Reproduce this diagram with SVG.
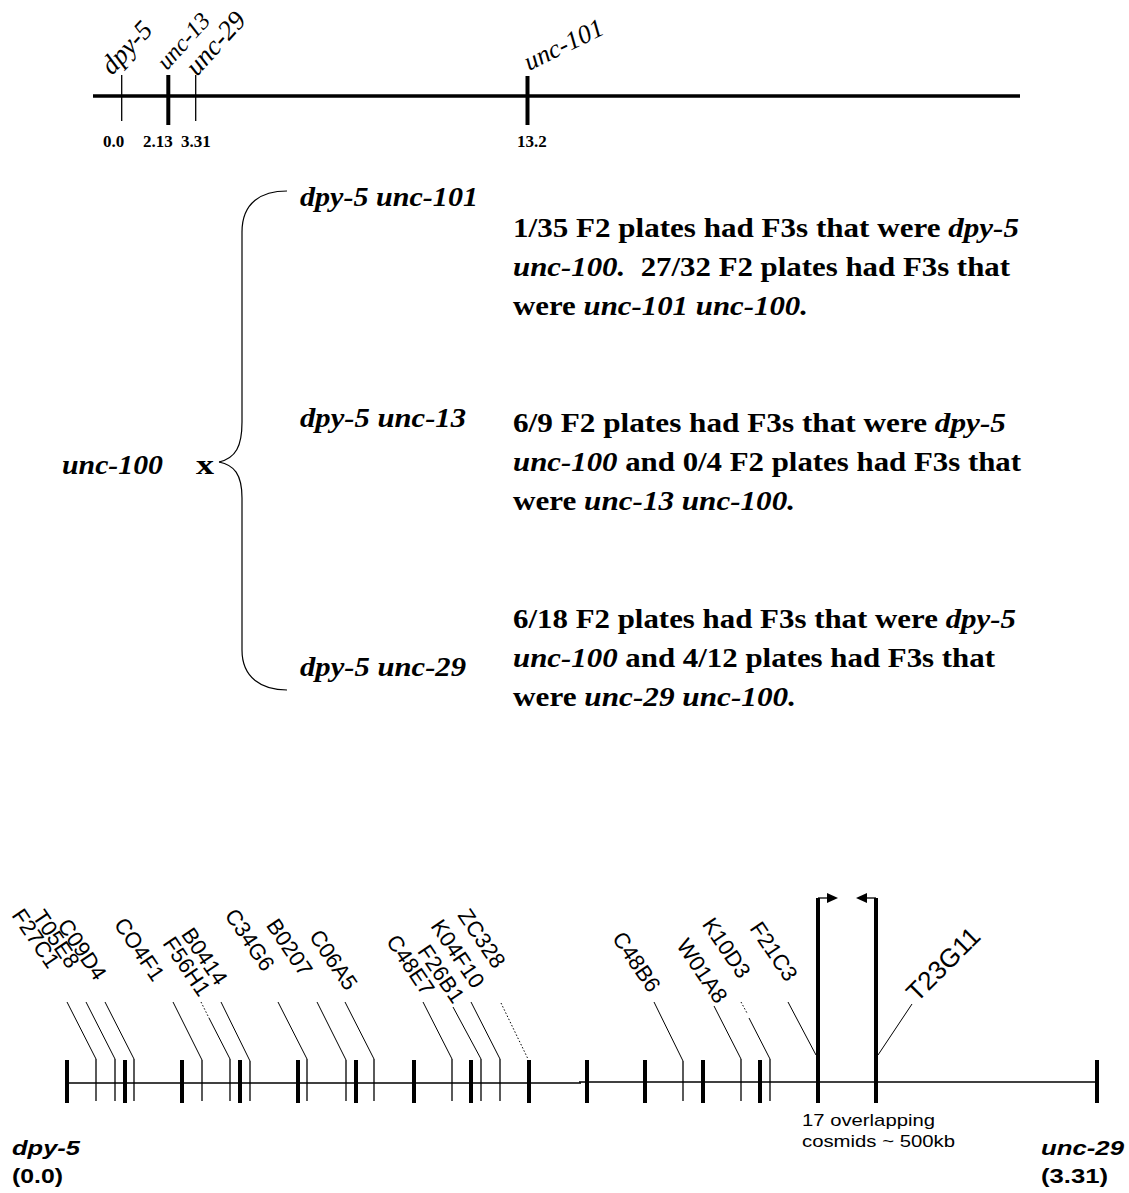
<svg xmlns="http://www.w3.org/2000/svg" width="1129" height="1193" viewBox="0 0 1129 1193">
<style>
.tm{font-family:"Liberation Serif","Times New Roman",serif;fill:#000}
.ar{font-family:"Liberation Sans",Arial,sans-serif;fill:#000}
.p{font-size:27px;font-weight:bold}
.i{font-style:italic}
.lb{font-size:22px;text-anchor:end}
.ax{stroke:#000;fill:none}
.thin{stroke:#000;stroke-width:1.3}
.thick{stroke:#000;stroke-width:4}
.ld{stroke:#000;stroke-width:1}
.dot{stroke:#000;stroke-width:1;stroke-dasharray:1.5 2}
</style>
<rect width="1129" height="1193" fill="#fff"/>

<!-- top genetic map -->
<g id="top-map">
  <line class="ax" x1="93" y1="96" x2="1020" y2="96" stroke-width="3.5"/>
  <line class="thin" x1="121.7" y1="75" x2="121.7" y2="121" stroke-width="1.5"/>
  <line class="thick" x1="168.3" y1="75" x2="168.3" y2="125"/>
  <line class="thin" x1="195.7" y1="75" x2="195.7" y2="121" stroke-width="1.5"/>
  <line class="thick" x1="527.5" y1="76" x2="527.5" y2="125"/>
  <text class="tm i" font-size="27" transform="translate(112,76) rotate(-47)">dpy-5</text>
  <text class="tm i" font-size="24" transform="translate(167,71) rotate(-48)">unc-13</text>
  <text class="tm i" font-size="27" transform="translate(197,77) rotate(-48)">unc-29</text>
  <text class="tm i" font-size="26" transform="translate(529,71) rotate(-26)">unc-101</text>
  <text class="tm" font-size="17" font-weight="bold" x="103" y="147">0.0</text>
  <text class="tm" font-size="17" font-weight="bold" x="143" y="147">2.13</text>
  <text class="tm" font-size="17" font-weight="bold" x="181" y="147">3.31</text>
  <text class="tm" font-size="17" font-weight="bold" x="517" y="147">13.2</text>
</g>

<!-- cross -->
<g id="cross">
  <text class="tm p i" x="62" y="474" textLength="101" lengthAdjust="spacingAndGlyphs">unc-100</text>
  <text class="tm p" font-size="28" x="196" y="474" textLength="18" lengthAdjust="spacingAndGlyphs">x</text>
  <path class="ax" stroke-width="1.2" d="M287,191 C262,191 242,202 242,232 L242,422 C242,446 236,458 219,462"/>
  <path class="ax" stroke-width="1.2" d="M219,462 C234,465 242,474 242,498 L242,650 C242,678 262,690 287,690"/>
</g>

<g id="strain-1">
  <text class="tm p i" x="300" y="206" textLength="178" lengthAdjust="spacingAndGlyphs">dpy-5 unc-101</text>
  <text class="tm p" x="513" y="237" textLength="506" lengthAdjust="spacingAndGlyphs">1/35 F2 plates had F3s that were <tspan class="i">dpy-5</tspan></text>
  <text class="tm p" x="513" y="276" textLength="497" lengthAdjust="spacingAndGlyphs" xml:space="preserve"><tspan class="i">unc-100.</tspan>  27/32 F2 plates had F3s that</text>
  <text class="tm p" x="513" y="315" textLength="295" lengthAdjust="spacingAndGlyphs">were <tspan class="i">unc-101 unc-100.</tspan></text>
</g>

<g id="strain-2">
  <text class="tm p i" x="300" y="427" textLength="166" lengthAdjust="spacingAndGlyphs">dpy-5 unc-13</text>
  <text class="tm p" x="513" y="432" textLength="493" lengthAdjust="spacingAndGlyphs">6/9 F2 plates had F3s that were <tspan class="i">dpy-5</tspan></text>
  <text class="tm p" x="513" y="471" textLength="508" lengthAdjust="spacingAndGlyphs"><tspan class="i">unc-100</tspan> and 0/4 F2 plates had F3s that</text>
  <text class="tm p" x="513" y="510" textLength="282" lengthAdjust="spacingAndGlyphs">were <tspan class="i">unc-13 unc-100.</tspan></text>
</g>

<g id="strain-3">
  <text class="tm p i" x="300" y="676" textLength="166" lengthAdjust="spacingAndGlyphs">dpy-5 unc-29</text>
  <text class="tm p" x="513" y="628" textLength="503" lengthAdjust="spacingAndGlyphs">6/18 F2 plates had F3s that were <tspan class="i">dpy-5</tspan></text>
  <text class="tm p" x="513" y="667" textLength="482" lengthAdjust="spacingAndGlyphs"><tspan class="i">unc-100</tspan> and 4/12 plates had F3s that</text>
  <text class="tm p" x="513" y="706" textLength="283" lengthAdjust="spacingAndGlyphs">were <tspan class="i">unc-29 unc-100.</tspan></text>
</g>

<!-- physical map -->
<g id="physical-map">
  <line class="ax" x1="67" y1="1083" x2="581" y2="1083" stroke-width="1.6"/>
  <line class="ax" x1="579" y1="1082" x2="1097" y2="1082" stroke-width="1.6"/>
  <g id="thick-ticks">
    <line class="thick" x1="67" y1="1060" x2="67" y2="1103"/>
    <line class="thick" x1="125" y1="1060" x2="125" y2="1103"/>
    <line class="thick" x1="182" y1="1060" x2="182" y2="1103"/>
    <line class="thick" x1="240" y1="1060" x2="240" y2="1103"/>
    <line class="thick" x1="298" y1="1060" x2="298" y2="1103"/>
    <line class="thick" x1="356" y1="1060" x2="356" y2="1103"/>
    <line class="thick" x1="414" y1="1060" x2="414" y2="1103"/>
    <line class="thick" x1="471" y1="1060" x2="471" y2="1103"/>
    <line class="thick" x1="529" y1="1060" x2="529" y2="1103"/>
    <line class="thick" x1="587" y1="1060" x2="587" y2="1103"/>
    <line class="thick" x1="645" y1="1060" x2="645" y2="1103"/>
    <line class="thick" x1="703" y1="1060" x2="703" y2="1103"/>
    <line class="thick" x1="760" y1="1060" x2="760" y2="1103"/>
    <line class="thick" x1="1097" y1="1060" x2="1097" y2="1103"/>
    <line class="thick" x1="818" y1="898" x2="818" y2="1103"/>
    <line class="thick" x1="876" y1="898" x2="876" y2="1103"/>
  </g>
  <g id="thin-ticks">
    <line class="thin" x1="96" y1="1059" x2="96" y2="1101"/>
    <line class="thin" x1="115" y1="1059" x2="115" y2="1101"/>
    <line class="thin" x1="134" y1="1059" x2="134" y2="1101"/>
    <line class="thin" x1="202" y1="1060" x2="202" y2="1101"/>
    <line class="thin" x1="230" y1="1059" x2="230" y2="1101"/>
    <line class="thin" x1="250" y1="1061" x2="250" y2="1101"/>
    <line class="thin" x1="307" y1="1059" x2="307" y2="1101"/>
    <line class="thin" x1="346" y1="1060" x2="346" y2="1101"/>
    <line class="thin" x1="374" y1="1059" x2="374" y2="1101"/>
    <line class="thin" x1="452" y1="1059" x2="452" y2="1101"/>
    <line class="thin" x1="481" y1="1059" x2="481" y2="1101"/>
    <line class="thin" x1="500" y1="1059" x2="500" y2="1101"/>
    <line class="thin" x1="683" y1="1061" x2="683" y2="1101"/>
    <line class="thin" x1="741" y1="1059" x2="741" y2="1101"/>
    <line class="thin" x1="770" y1="1059" x2="770" y2="1101"/>
  </g>
  <g id="arrows" fill="#000">
    <line class="thin" x1="818" y1="898" x2="828" y2="898" stroke-width="1.6"/>
    <polygon points="838,898 827,893 827,903"/>
    <line class="thin" x1="876" y1="898" x2="866" y2="898" stroke-width="1.6"/>
    <polygon points="856,898 867,893 867,903"/>
  </g>
</g>

<g id="connectors">
  <line class="ld" x1="67" y1="1002" x2="96" y2="1059"/>
  <line class="ld" x1="86" y1="1002" x2="115" y2="1059"/>
  <line class="ld" x1="105" y1="1002" x2="134" y2="1059"/>
  <line class="ld" x1="173" y1="1002" x2="202" y2="1060"/>
  <line class="dot" x1="201" y1="1002" x2="209" y2="1018"/>
  <line class="ld" x1="209" y1="1018" x2="230" y2="1059"/>
  <line class="ld" x1="221" y1="1002" x2="250" y2="1061"/>
  <line class="ld" x1="278" y1="1002" x2="307" y2="1059"/>
  <line class="ld" x1="317" y1="1002" x2="346" y2="1060"/>
  <line class="ld" x1="345" y1="1002" x2="374" y2="1059"/>
  <line class="ld" x1="423" y1="1002" x2="452" y2="1059"/>
  <line class="ld" x1="453" y1="1007" x2="481" y2="1059"/>
  <line class="ld" x1="471" y1="1002" x2="500" y2="1059"/>
  <line class="dot" x1="501" y1="1003" x2="528" y2="1059"/>
  <line class="ld" x1="654" y1="1002" x2="683" y2="1061"/>
  <line class="ld" x1="714" y1="1006" x2="741" y2="1059"/>
  <line class="dot" x1="741" y1="1002" x2="747" y2="1013"/>
  <line class="ld" x1="749" y1="1018" x2="770" y2="1059"/>
  <line class="ld" x1="788" y1="1002" x2="816" y2="1055"/>
  <line class="ld" x1="878" y1="1055" x2="912" y2="1004"/>
</g>

<g id="cosmid-labels" class="ar">
  <text class="lb" transform="translate(48,970) rotate(56)">F27C1</text>
  <text class="lb" transform="translate(68,970) rotate(56)">T05E8</text>
  <text class="lb" transform="translate(95,982) rotate(56)">C09D4</text>
  <text class="lb" transform="translate(153,983) rotate(56)">CO4F1</text>
  <text class="lb" transform="translate(199,998) rotate(56)">F56H1</text>
  <text class="lb" transform="translate(216,987) rotate(56)">B0414</text>
  <text class="lb" transform="translate(263,973) rotate(56)">C34G6</text>
  <text class="lb" transform="translate(301,978) rotate(56)">B0207</text>
  <text class="lb" transform="translate(346,992) rotate(56)">C06A5</text>
  <text class="lb" transform="translate(423,997) rotate(56)">C48E7</text>
  <text class="lb" transform="translate(453,1005) rotate(56)">F26B1</text>
  <text class="lb" transform="translate(473,990) rotate(56)">K04F10</text>
  <text class="lb" transform="translate(494,970) rotate(56)">ZC328</text>
  <text class="lb" transform="translate(649,994) rotate(56)">C48B6</text>
  <text class="lb" transform="translate(716,1005) rotate(56)">W01A8</text>
  <text class="lb" transform="translate(739,980) rotate(56)">K10D3</text>
  <text class="lb" transform="translate(786,983) rotate(56)">F21C3</text>
  <text font-size="26" transform="translate(917,1003) rotate(-45)">T23G11</text>
</g>

<g id="map-ends" class="ar" font-weight="bold">
  <text class="i" font-size="21" x="12" y="1155" textLength="68" lengthAdjust="spacingAndGlyphs">dpy-5</text>
  <text font-size="21" x="12" y="1183" textLength="51" lengthAdjust="spacingAndGlyphs">(0.0)</text>
  <text class="i" font-size="21" x="1041" y="1155" textLength="83" lengthAdjust="spacingAndGlyphs">unc-29</text>
  <text font-size="21" x="1041" y="1183" textLength="67" lengthAdjust="spacingAndGlyphs">(3.31)</text>
</g>

<g id="cosmid-note" class="ar" font-size="17">
  <text x="802" y="1126" textLength="133" lengthAdjust="spacingAndGlyphs">17 overlapping</text>
  <text x="802" y="1147" textLength="153" lengthAdjust="spacingAndGlyphs">cosmids ~ 500kb</text>
</g>
</svg>
